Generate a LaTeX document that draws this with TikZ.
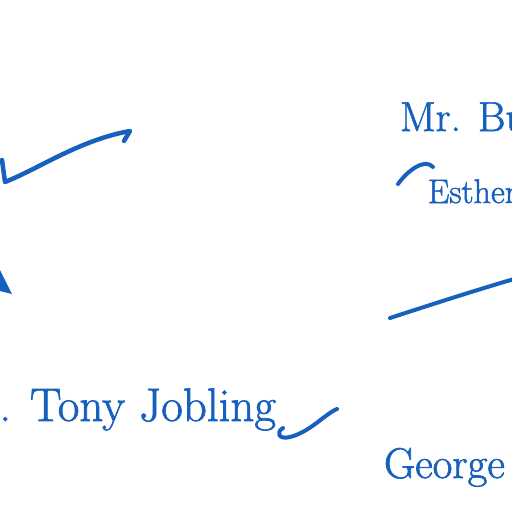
\documentclass[tikz,border=0pt]{standalone}
\usepackage{fontspec}
\newfontfamily\inkfont[FakeBold=1.5]{Latin Modern Roman}
\usetikzlibrary{calc}
\definecolor{inkblue}{HTML}{1760BE}
\begin{document}
\begin{tikzpicture}[x=1pt,y=-1pt,
  ink/.style={draw=inkblue,line width=4.5pt,line cap=round,line join=round},
  lbl/.style={text=inkblue,inner sep=0pt,outer sep=0pt}]
\useasboundingbox (0,0) rectangle (512,512);
\clip (0,0) rectangle (512,512);
% labels
\node[lbl,anchor=base west,font=\inkfont\fontsize{42}{48}\selectfont] (bu) at (400,131) {Mr. Bucket};
\node[lbl,anchor=base west,font=\inkfont\fontsize{34}{40}\selectfont] (es) at (428,203) {Esther};
\node[lbl,anchor=base east,font=\inkfont\fontsize{47}{54}\selectfont] (tj) at (276,421) {Mr. Tony Jobling};
\node[lbl,anchor=base west,font=\inkfont\fontsize{43}{50}\selectfont] (ge) at (384,478) {George};
% strokes
\coordinate (a0) at (2,160);
\coordinate (a1) at (124,141);
\draw[ink] (a0) -- (5,182) .. controls (40,168) and (80,140) .. (130,131) -- (124,141);
\fill[inkblue] (0,270) -- (12,294) -- (0,291) -- cycle;
\coordinate (b0) at (398,184);
\coordinate (b1) at (433,167);
\draw[ink,line width=4pt] (b0) .. controls (408,170) and (425,158) .. (b1);
\coordinate (c0) at (390,318);
\coordinate (c1) at (514,279);
\draw[ink,line width=4pt] (c0) .. controls (430,305) and (470,292) .. (c1);
\coordinate (d0) at (283,428);
\coordinate (d1) at (337,409);
\draw[ink,line width=4pt] (d0) .. controls (276,432) and (278,440) .. (290,437) .. controls (310,432) and (325,414) .. (d1);
\end{tikzpicture}
\end{document}
